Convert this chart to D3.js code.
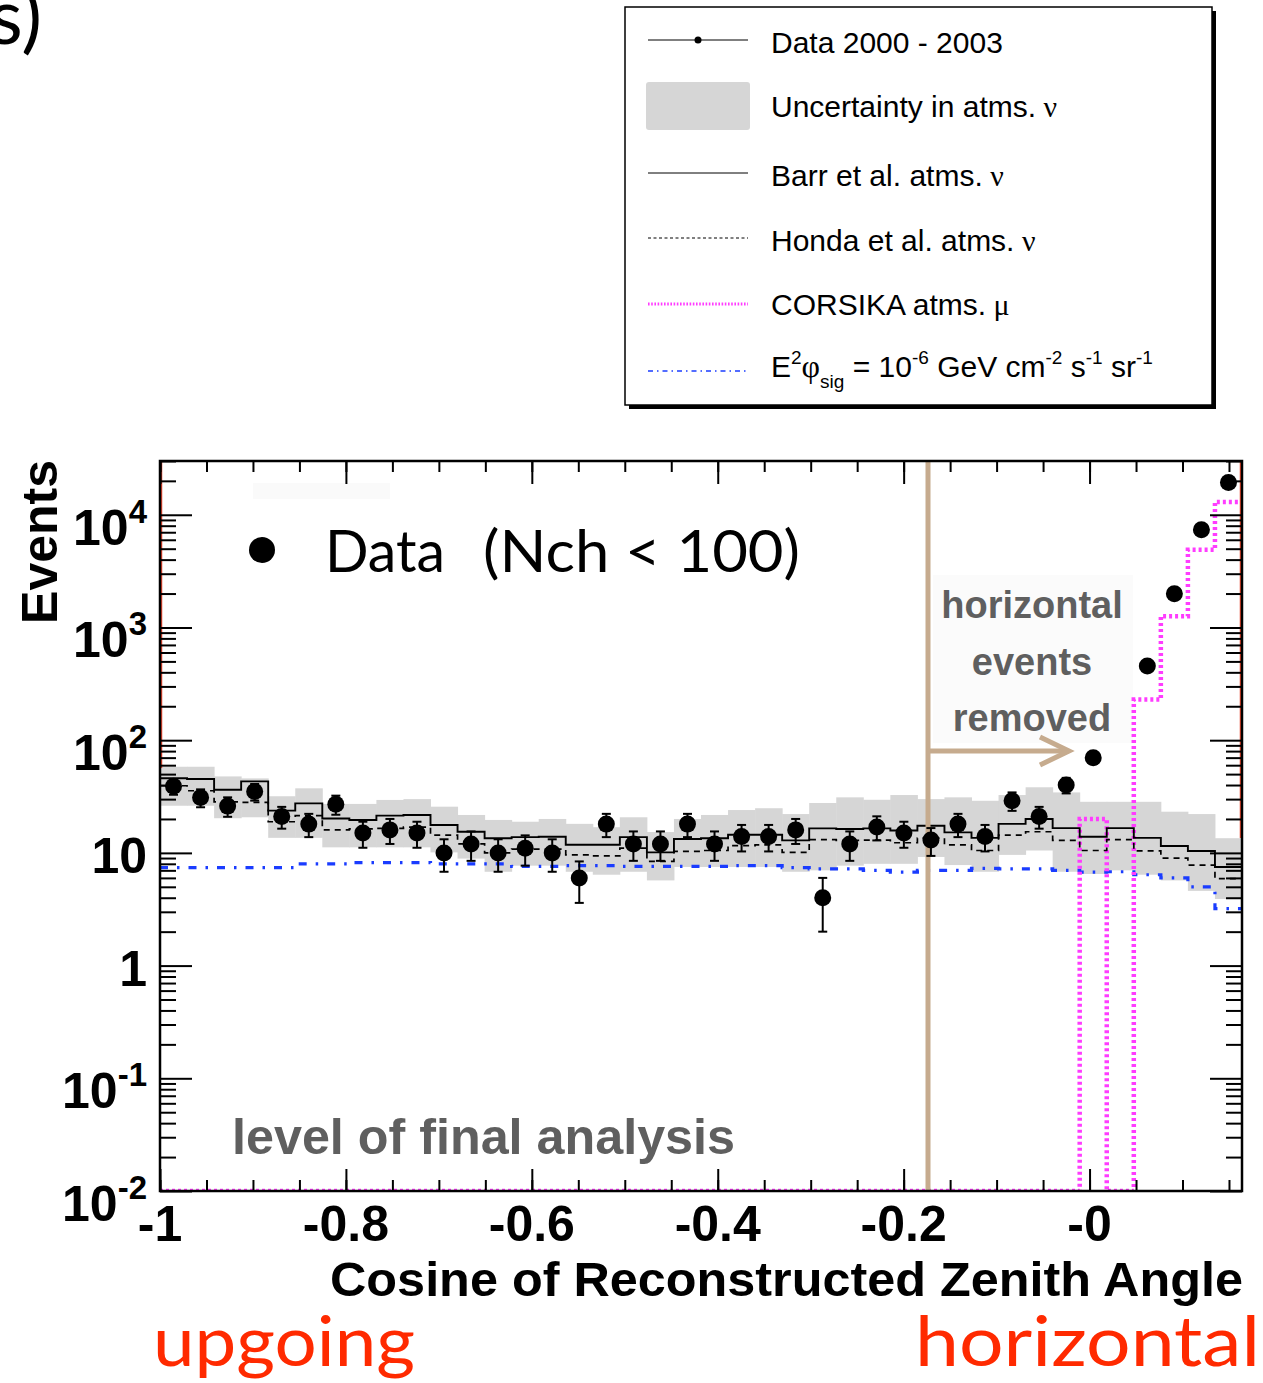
<!DOCTYPE html>
<html><head><meta charset="utf-8">
<script src="https://cdn.jsdelivr.net/npm/d3@7"></script>
<style>
body{margin:0;background:#fff}
svg{display:block}
</style>
</head><body>
<svg id="c" width="1263" height="1383"></svg>
<script>
// Zenith-angle binning (cosine of reconstructed zenith)
const binStart = -1, binWidth = 0.0291, nBins = 40;

// Observed events per bin (null: bin not shown)
const dataCounts = [39, 31, 26, 35, 21, 18, 27, 15, 16, 15, 10, 12, 10, 11, 10, 6, 18, 12, 12, 18,
                    12, 14, 14, 16, 4, 12, 17, 15, 13, 18, 14, 29, 21, 40, 70, null, 455, 1990, 7360, 19300];
const dataErrors = [6.2, 5.6, 5.1, 5.9, 4.6, 4.2, 5.2, 3.9, 4.0, 3.9, 3.2, 3.5, 3.2, 3.3, 3.2, 2.4, 4.2, 3.5, 3.5, 4.2,
                    3.5, 3.7, 3.7, 4.0, 2.0, 3.5, 4.1, 3.9, 3.6, 4.2, 3.7, 5.4, 4.6, 6.3, 8.4, null, 21, 45, 86, 139];
// Atmospheric neutrino expectations
const barr  = [45.9, 45.2, 36.3, 43.1, 23.7, 27.5, 20.2, 19.6, 21.4, 21.7, 17.7, 15.4, 13.5, 13.8, 13.9, 11.8, 11.8, 13.8, 10.1, 13.3,
               13.5, 14.5, 14.5, 12.9, 16.5, 16.3, 16.5, 15.8, 17.4, 15.2, 13.6, 18.1, 20.0, 16.6, 13.9, 16.6, 13.6, 11.5, 10.4, 7.5];
const honda = [39.4, 35.6, 28.4, 28.1, 18.9, 21.4, 16.0, 16.3, 16.5, 16.9, 14.4, 12.0, 10.0, 10.8, 10.8, 9.6, 9.4, 11.0, 8.4, 10.3,
               10.5, 11.6, 11.8, 10.1, 13.1, 12.9, 13.0, 12.3, 13.5, 11.8, 10.5, 14.4, 15.4, 12.9, 10.5, 13.1, 10.4, 9.0, 7.8, 5.9];
// Uncertainty band on the atmospheric neutrino prediction
const bandLow  = [26.2, 26.2, 20.3, 20.7, 13.6, 13.6, 11.2, 11.2, 11.2, 11.2, 10.1, 8.9, 6.8, 7.7, 7.7, 6.8, 6.4, 6.8, 5.7, 7.5,
                  7.5, 7.5, 7.5, 6.8, 7.0, 7.7, 8.0, 8.0, 9.2, 7.8, 6.8, 9.6, 10.5, 6.8, 6.5, 7.0, 6.4, 5.7, 4.6, 3.9];
const bandHigh = [58.1, 58.1, 47.7, 45.8, 31.8, 37.4, 27.2, 27.2, 29.5, 30.0, 25.7, 21.7, 19.6, 18.9, 20.0, 18.1, 16.9, 20.7, 15.3, 20.0,
                  21.7, 24.0, 24.9, 22.1, 27.7, 31.1, 29.6, 32.6, 30.0, 31.1, 29.0, 32.6, 38.2, 34.4, 28.4, 28.4, 28.4, 23.2, 22.1, 13.5];
// CORSIKA atmospheric muons
const corsika = [0, 0, 0, 0, 0, 0, 0, 0, 0, 0, 0, 0, 0, 0, 0, 0, 0, 0, 0, 0,
                 0, 0, 0, 0, 0, 0, 0, 0, 0, 0, 0, 0, 0, 0, 20, 0, 230, 1260, 4900, 13000];
// Signal flux E^2 phi = 1e-6 GeV cm^-2 s^-1 sr^-1
const signal = [7.4, 7.4, 7.4, 7.4, 7.4, 8.0, 8.0, 8.2, 8.2, 8.2, 8.0, 8.0, 8.0, 7.6, 7.6, 7.7, 7.7, 7.6, 7.6, 7.6,
                7.6, 7.7, 7.7, 7.4, 7.2, 7.2, 7.0, 6.75, 7.0, 7.0, 7.3, 7.2, 7.2, 7.0, 6.75, 6.8, 6.4, 6.0, 5.0, 3.2];

const xTickValues = [-1, -0.8, -0.6, -0.4, -0.2, 0];
const xTickLabels = ["-1", "-0.8", "-0.6", "-0.4", "-0.2", "-0"];
const xMinorValues = d3.range(-1, 0.16, 0.05);
const yTickValues = [1e-2, 1e-1, 1, 10, 100, 1e3, 1e4];
const yTickLabels = [["10", "-2"], ["10", "-1"], ["1", ""], ["10", ""], ["10", "2"], ["10", "3"], ["10", "4"]];

const legendEntries = ["Data 2000 - 2003", "Uncertainty in atms.", "Barr et al. atms.", "Honda et al. atms.", "CORSIKA atms."];

const L = 160, R = 1242, T = 461, B = 1191;
const yMin = 0.01, yMax = 3e4;
const x = d3.scaleLinear().domain([binStart, binStart + nBins * binWidth]).range([L, R]);
const y = d3.scaleLog().domain([yMin, yMax]).range([B, T]);

const svg = d3.select("#c");
const SANS = "'Liberation Sans', Arial, sans-serif";
const SERIF = "'Liberation Serif', 'Times New Roman', serif";
const TAN = "#c6ab8e", GREY_TXT = "#5f5f5f", RED = "#ff2a00";

const edge = i => binStart + i * binWidth;
const center = i => binStart + (i + 0.5) * binWidth;

// ---- plot area ----
const plot = svg.append("g");
plot.append("clipPath").attr("id", "clip").append("rect")
  .attr("x", L).attr("y", T).attr("width", R - L).attr("height", B - T);
const inner = plot.append("g").attr("clip-path", "url(#clip)");

// faint label backgrounds
inner.append("rect").attr("x", 253).attr("y", 483).attr("width", 137).attr("height", 16).attr("fill", "#fafafa");
inner.append("rect").attr("x", 933).attr("y", 575).attr("width", 200).attr("height", 168).attr("fill", "#fbfbfb");

// uncertainty band
inner.selectAll("rect.band").data(d3.range(nBins)).join("rect").attr("class", "band")
  .attr("x", i => x(edge(i)))
  .attr("width", i => x(edge(i + 1)) - x(edge(i)) + 0.5)
  .attr("y", i => y(bandHigh[i]))
  .attr("height", i => y(bandLow[i]) - y(bandHigh[i]))
  .attr("fill", "#d6d6d6");

function stepPath(vals) {
  const pts = [];
  vals.forEach((v, i) => { pts.push([edge(i), v], [edge(i + 1), v]); });
  return d3.line().x(d => x(d[0])).y(d => y(Math.max(d[1], yMin)))(pts);
}

// signal flux
inner.append("path").attr("d", stepPath(signal)).attr("fill", "none")
  .attr("stroke", "#1a3cff").attr("stroke-width", 3.2).attr("stroke-dasharray", "8,9,2.5,9");
// CORSIKA muons
inner.append("path").attr("d", stepPath(corsika)).attr("fill", "none")
  .attr("stroke", "#ff3cff").attr("stroke-width", 4.5).attr("stroke-dasharray", "3,3");
// Honda
inner.append("path").attr("d", stepPath(honda)).attr("fill", "none")
  .attr("stroke", "#000").attr("stroke-width", 1.7).attr("stroke-dasharray", "6,5");
// Barr
inner.append("path").attr("d", stepPath(barr)).attr("fill", "none")
  .attr("stroke", "#000").attr("stroke-width", 1.9);

// red edge lines
plot.append("line").attr("x1", L + 1.5).attr("x2", L + 1.5).attr("y1", T).attr("y2", 768).attr("stroke", "#e8452c").attr("stroke-width", 1.5);
plot.append("line").attr("x1", R - 1.5).attr("x2", R - 1.5).attr("y1", T).attr("y2", 838).attr("stroke", "#e8452c").attr("stroke-width", 1.5);

// cut marker
plot.append("line").attr("x1", 928).attr("x2", 928).attr("y1", T).attr("y2", B).attr("stroke", TAN).attr("stroke-width", 5);
plot.append("line").attr("x1", 928).attr("x2", 1068).attr("y1", 751).attr("y2", 751).attr("stroke", TAN).attr("stroke-width", 5);
plot.append("polyline").attr("points", "1040,737 1069,751 1040,765").attr("fill", "none")
  .attr("stroke", TAN).attr("stroke-width", 5);

// data points
const pts = d3.range(nBins).filter(i => dataCounts[i] != null);
const gData = plot.append("g");
pts.forEach(i => {
  const cx = x(center(i)), v = dataCounts[i], e = dataErrors[i];
  const y1 = y(v + e), y2 = y(Math.max(v - e, yMin));
  gData.append("line").attr("x1", cx).attr("x2", cx).attr("y1", y1).attr("y2", y2).attr("stroke", "#000").attr("stroke-width", 2);
  [y1, y2].forEach(yy => gData.append("line").attr("x1", cx - 4.5).attr("x2", cx + 4.5).attr("y1", yy).attr("y2", yy)
    .attr("stroke", "#000").attr("stroke-width", 2));
  gData.append("circle").attr("cx", cx).attr("cy", y(v)).attr("r", 8.5).attr("fill", "#000");
});

// ---- axes (ticks pointing inwards on all four sides) ----
const logMinor = [];
for (let p = -2; p <= 4; p++) for (let m = 2; m <= 9; m++) { const v = m * Math.pow(10, p); if (v <= yMax) logMinor.push(v); }

function axisGroup(gen, tx, ty) {
  const g = svg.append("g").attr("transform", `translate(${tx},${ty})`).call(gen);
  g.select(".domain").remove();
  g.selectAll(".tick line").attr("stroke", "#000").attr("stroke-width", 2);
  g.selectAll(".tick text").remove();
  return g;
}
axisGroup(d3.axisTop(x).tickValues(xTickValues).tickSize(22).tickFormat(""), 0, B);
axisGroup(d3.axisTop(x).tickValues(xMinorValues).tickSize(11).tickFormat(""), 0, B);
axisGroup(d3.axisBottom(x).tickValues(xTickValues).tickSize(23).tickFormat(""), 0, T);
axisGroup(d3.axisBottom(x).tickValues(xMinorValues).tickSize(11).tickFormat(""), 0, T);
axisGroup(d3.axisRight(y).tickValues(yTickValues).tickSize(32).tickFormat(""), L, 0);
axisGroup(d3.axisRight(y).tickValues(logMinor).tickSize(16).tickFormat(""), L, 0);
axisGroup(d3.axisLeft(y).tickValues(yTickValues).tickSize(32).tickFormat(""), R, 0);
axisGroup(d3.axisLeft(y).tickValues(logMinor).tickSize(16).tickFormat(""), R, 0);

// frame
svg.append("rect").attr("x", L).attr("y", T).attr("width", R - L).attr("height", B - T)
  .attr("fill", "none").attr("stroke", "#000").attr("stroke-width", 2.5);

// tick labels
xTickValues.forEach((v, i) => {
  svg.append("text").attr("x", x(v)).attr("y", 1241).attr("text-anchor", "middle")
    .attr("font-family", SANS).attr("font-weight", "bold").attr("font-size", 50).text(xTickLabels[i]);
});
yTickValues.forEach((v, i) => {
  const [base, sup] = yTickLabels[i];
  const t = svg.append("text").attr("x", 147).attr("y", y(v) + (sup ? 30 : 20)).attr("text-anchor", "end")
    .attr("font-family", SANS).attr("font-weight", "bold").attr("font-size", 50);
  t.append("tspan").text(base);
  if (sup) t.append("tspan").attr("font-size", 33).attr("dy", -22).text(sup);
});

// axis titles
svg.append("text").attr("x", 330).attr("y", 1296)
  .attr("font-family", SANS).attr("font-weight", "bold").attr("font-size", 49)
  .attr("textLength", 913).attr("lengthAdjust", "spacingAndGlyphs")
  .text("Cosine of Reconstructed Zenith Angle");
svg.append("text").attr("transform", "translate(57,460) rotate(-90)").attr("text-anchor", "end")
  .attr("font-family", SANS).attr("font-weight", "bold").attr("font-size", 50).text("Events");

// annotations
svg.append("circle").attr("cx", 262).attr("cy", 550).attr("r", 13).attr("fill", "#000");
svg.append("text").attr("x", 325).attr("y", 572).attr("font-family", "Lato, sans-serif").attr("font-size", 58)
  .attr("textLength", 120).attr("lengthAdjust", "spacingAndGlyphs").text("Data");
svg.append("text").attr("x", 483).attr("y", 572).attr("font-family", "Lato, sans-serif").attr("font-size", 58)
  .attr("textLength", 317).attr("lengthAdjust", "spacingAndGlyphs").text("(Nch < 100)");
[["horizontal", 618], ["events", 675], ["removed", 731]].forEach(([s, yy]) => {
  svg.append("text").attr("x", 1032).attr("y", yy).attr("text-anchor", "middle")
    .attr("font-family", SANS).attr("font-weight", "bold").attr("font-size", 38).attr("fill", GREY_TXT).text(s);
});
svg.append("text").attr("x", 232).attr("y", 1154).attr("font-family", SANS).attr("font-weight", "bold")
  .attr("font-size", 50).attr("fill", GREY_TXT).attr("textLength", 503).attr("lengthAdjust", "spacingAndGlyphs")
  .text("level of final analysis");
svg.append("text").attr("x", 153).attr("y", 1366).attr("font-family", "Lato, sans-serif").attr("font-size", 70)
  .attr("fill", RED).attr("textLength", 262).attr("lengthAdjust", "spacingAndGlyphs").text("upgoing");
svg.append("text").attr("x", 915).attr("y", 1366).attr("font-family", "Lato, sans-serif").attr("font-size", 70)
  .attr("fill", RED).attr("textLength", 345).attr("lengthAdjust", "spacingAndGlyphs").text("horizontal");
svg.append("text").attr("x", 42).attr("y", 44).attr("text-anchor", "end").attr("font-family", "Lato, sans-serif")
  .attr("font-size", 78).text("s)");

// ---- legend ----
const lg = svg.append("g");
lg.append("rect").attr("x", 629).attr("y", 11).attr("width", 587).attr("height", 398).attr("fill", "#000");
lg.append("rect").attr("x", 625).attr("y", 7).attr("width", 587).attr("height", 398).attr("fill", "#fff")
  .attr("stroke", "#000").attr("stroke-width", 1.5);
const lx0 = 648, lx1 = 748, tx = 771;
const rowY = [42, 106, 175, 240, 304, 368];
lg.append("line").attr("x1", lx0).attr("x2", lx1).attr("y1", rowY[0] - 2).attr("y2", rowY[0] - 2).attr("stroke", "#000").attr("stroke-width", 1);
lg.append("circle").attr("cx", 698).attr("cy", rowY[0] - 2).attr("r", 3.5).attr("fill", "#000");
lg.append("rect").attr("x", 646).attr("y", 82).attr("width", 104).attr("height", 48).attr("rx", 3).attr("fill", "#d6d6d6");
lg.append("line").attr("x1", lx0).attr("x2", lx1).attr("y1", rowY[2] - 2).attr("y2", rowY[2] - 2).attr("stroke", "#000").attr("stroke-width", 1);
lg.append("line").attr("x1", lx0).attr("x2", lx1).attr("y1", rowY[3] - 2).attr("y2", rowY[3] - 2).attr("stroke", "#000")
  .attr("stroke-width", 1).attr("stroke-dasharray", "3,2.5");
lg.append("line").attr("x1", lx0).attr("x2", lx1).attr("y1", rowY[4]).attr("y2", rowY[4]).attr("stroke", "#ff3cff")
  .attr("stroke-width", 3).attr("stroke-dasharray", "1.6,1.6");
lg.append("line").attr("x1", lx0).attr("x2", lx1).attr("y1", rowY[5] + 3).attr("y2", rowY[5] + 3).attr("stroke", "#1a3cff")
  .attr("stroke-width", 1.5).attr("stroke-dasharray", "5,4,1.5,4");

const greek = [null, "\u03bd", "\u03bd", "\u03bd", "\u03bc"];
legendEntries.forEach((s, i) => {
  const t = lg.append("text").attr("x", tx).attr("y", rowY[i] + 11).attr("font-family", SANS).attr("font-size", 30);
  t.append("tspan").text(s);
  if (greek[i]) t.append("tspan").attr("font-family", SERIF).text(" " + greek[i]);
});
// signal flux label with super/subscripts
const st = lg.append("text").attr("x", tx).attr("y", rowY[5] + 9).attr("font-family", SANS).attr("font-size", 30);
st.append("tspan").text("E");
st.append("tspan").attr("font-size", 19).attr("dy", -13).text("2");
st.append("tspan").attr("font-family", SERIF).attr("font-size", 32).attr("dy", 13).text("\u03c6");
st.append("tspan").attr("font-size", 19).attr("dy", 11).text("sig");
st.append("tspan").attr("dy", -11).text(" = 10");
st.append("tspan").attr("font-size", 19).attr("dy", -13).text("-6");
st.append("tspan").attr("dy", 13).text(" GeV cm");
st.append("tspan").attr("font-size", 19).attr("dy", -13).text("-2");
st.append("tspan").attr("dy", 13).text(" s");
st.append("tspan").attr("font-size", 19).attr("dy", -13).text("-1");
st.append("tspan").attr("dy", 13).text(" sr");
st.append("tspan").attr("font-size", 19).attr("dy", -13).text("-1");
</script>
</body></html>
